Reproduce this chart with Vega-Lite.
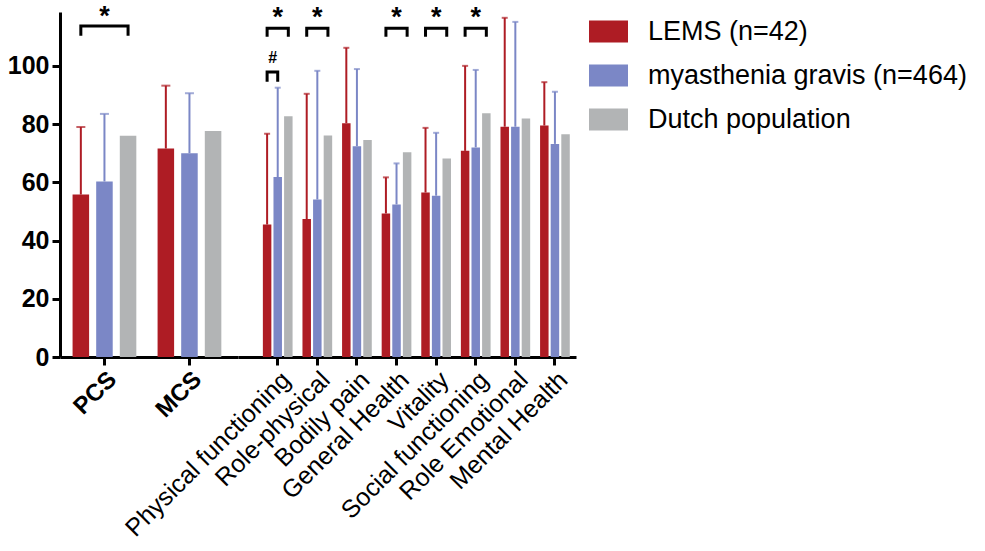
{
  "$schema": "https://vega.github.io/schema/vega-lite/v6.json",
  "padding": {"left": 7, "top": 3, "right": 5, "bottom": 5},
  "bounds": "flush",
  "datasets": {
    "bars": [
      {"panel": "summary", "cat": "PCS", "grp": "LEMS (n=42)", "mean": 55.8, "upper": 79.0},
      {"panel": "summary", "cat": "PCS", "grp": "myasthenia gravis (n=464)", "mean": 60.3, "upper": 83.5},
      {"panel": "summary", "cat": "PCS", "grp": "Dutch population", "mean": 76.0, "upper": null},
      {"panel": "summary", "cat": "MCS", "grp": "LEMS (n=42)", "mean": 71.6, "upper": 93.2},
      {"panel": "summary", "cat": "MCS", "grp": "myasthenia gravis (n=464)", "mean": 70.0, "upper": 90.6},
      {"panel": "summary", "cat": "MCS", "grp": "Dutch population", "mean": 77.6, "upper": null},
      {"panel": "scale", "cat": "Physical functioning", "grp": "LEMS (n=42)", "mean": 45.5, "upper": 76.7},
      {"panel": "scale", "cat": "Physical functioning", "grp": "myasthenia gravis (n=464)", "mean": 61.8, "upper": 92.5},
      {"panel": "scale", "cat": "Physical functioning", "grp": "Dutch population", "mean": 82.7, "upper": null},
      {"panel": "scale", "cat": "Role-physical", "grp": "LEMS (n=42)", "mean": 47.4, "upper": 90.4},
      {"panel": "scale", "cat": "Role-physical", "grp": "myasthenia gravis (n=464)", "mean": 54.1, "upper": 98.3},
      {"panel": "scale", "cat": "Role-physical", "grp": "Dutch population", "mean": 76.1, "upper": null},
      {"panel": "scale", "cat": "Bodily pain", "grp": "LEMS (n=42)", "mean": 80.3, "upper": 106.2},
      {"panel": "scale", "cat": "Bodily pain", "grp": "myasthenia gravis (n=464)", "mean": 72.4, "upper": 98.9},
      {"panel": "scale", "cat": "Bodily pain", "grp": "Dutch population", "mean": 74.5, "upper": null},
      {"panel": "scale", "cat": "General Health", "grp": "LEMS (n=42)", "mean": 49.3, "upper": 61.7},
      {"panel": "scale", "cat": "General Health", "grp": "myasthenia gravis (n=464)", "mean": 52.4, "upper": 66.5},
      {"panel": "scale", "cat": "General Health", "grp": "Dutch population", "mean": 70.3, "upper": null},
      {"panel": "scale", "cat": "Vitality", "grp": "LEMS (n=42)", "mean": 56.5, "upper": 78.7},
      {"panel": "scale", "cat": "Vitality", "grp": "myasthenia gravis (n=464)", "mean": 55.4, "upper": 77.0},
      {"panel": "scale", "cat": "Vitality", "grp": "Dutch population", "mean": 68.2, "upper": null},
      {"panel": "scale", "cat": "Social functioning", "grp": "LEMS (n=42)", "mean": 70.8, "upper": 100.0},
      {"panel": "scale", "cat": "Social functioning", "grp": "myasthenia gravis (n=464)", "mean": 72.0, "upper": 98.6},
      {"panel": "scale", "cat": "Social functioning", "grp": "Dutch population", "mean": 83.7, "upper": null},
      {"panel": "scale", "cat": "Role Emotional", "grp": "LEMS (n=42)", "mean": 79.1, "upper": 116.5},
      {"panel": "scale", "cat": "Role Emotional", "grp": "myasthenia gravis (n=464)", "mean": 79.1, "upper": 115.1},
      {"panel": "scale", "cat": "Role Emotional", "grp": "Dutch population", "mean": 81.9, "upper": null},
      {"panel": "scale", "cat": "Mental Health", "grp": "LEMS (n=42)", "mean": 79.5, "upper": 94.4},
      {"panel": "scale", "cat": "Mental Health", "grp": "myasthenia gravis (n=464)", "mean": 73.2, "upper": 91.1},
      {"panel": "scale", "cat": "Mental Health", "grp": "Dutch population", "mean": 76.5, "upper": null}
    ],
    "brackets": [
      {"panel": "summary", "id": "pcs", "cat": "PCS", "grp": "LEMS (n=42)", "y": 110.3, "ord": 0},
      {"panel": "summary", "id": "pcs", "cat": "PCS", "grp": "LEMS (n=42)", "y": 113.7, "ord": 1},
      {"panel": "summary", "id": "pcs", "cat": "PCS", "grp": "Dutch population", "y": 113.7, "ord": 2},
      {"panel": "summary", "id": "pcs", "cat": "PCS", "grp": "Dutch population", "y": 110.3, "ord": 3},
      {"panel": "scale", "id": "pf", "cat": "Physical functioning", "grp": "LEMS (n=42)", "y": 110.0, "ord": 0},
      {"panel": "scale", "id": "pf", "cat": "Physical functioning", "grp": "LEMS (n=42)", "y": 112.9, "ord": 1},
      {"panel": "scale", "id": "pf", "cat": "Physical functioning", "grp": "Dutch population", "y": 112.9, "ord": 2},
      {"panel": "scale", "id": "pf", "cat": "Physical functioning", "grp": "Dutch population", "y": 110.0, "ord": 3},
      {"panel": "scale", "id": "pfh", "cat": "Physical functioning", "grp": "LEMS (n=42)", "y": 94.5, "ord": 0},
      {"panel": "scale", "id": "pfh", "cat": "Physical functioning", "grp": "LEMS (n=42)", "y": 97.9, "ord": 1},
      {"panel": "scale", "id": "pfh", "cat": "Physical functioning", "grp": "myasthenia gravis (n=464)", "y": 97.9, "ord": 2},
      {"panel": "scale", "id": "pfh", "cat": "Physical functioning", "grp": "myasthenia gravis (n=464)", "y": 94.5, "ord": 3},
      {"panel": "scale", "id": "rp", "cat": "Role-physical", "grp": "LEMS (n=42)", "y": 110.0, "ord": 0},
      {"panel": "scale", "id": "rp", "cat": "Role-physical", "grp": "LEMS (n=42)", "y": 112.9, "ord": 1},
      {"panel": "scale", "id": "rp", "cat": "Role-physical", "grp": "Dutch population", "y": 112.9, "ord": 2},
      {"panel": "scale", "id": "rp", "cat": "Role-physical", "grp": "Dutch population", "y": 110.0, "ord": 3},
      {"panel": "scale", "id": "gh", "cat": "General Health", "grp": "LEMS (n=42)", "y": 110.0, "ord": 0},
      {"panel": "scale", "id": "gh", "cat": "General Health", "grp": "LEMS (n=42)", "y": 112.9, "ord": 1},
      {"panel": "scale", "id": "gh", "cat": "General Health", "grp": "Dutch population", "y": 112.9, "ord": 2},
      {"panel": "scale", "id": "gh", "cat": "General Health", "grp": "Dutch population", "y": 110.0, "ord": 3},
      {"panel": "scale", "id": "vt", "cat": "Vitality", "grp": "LEMS (n=42)", "y": 110.0, "ord": 0},
      {"panel": "scale", "id": "vt", "cat": "Vitality", "grp": "LEMS (n=42)", "y": 112.9, "ord": 1},
      {"panel": "scale", "id": "vt", "cat": "Vitality", "grp": "Dutch population", "y": 112.9, "ord": 2},
      {"panel": "scale", "id": "vt", "cat": "Vitality", "grp": "Dutch population", "y": 110.0, "ord": 3},
      {"panel": "scale", "id": "sf", "cat": "Social functioning", "grp": "LEMS (n=42)", "y": 110.0, "ord": 0},
      {"panel": "scale", "id": "sf", "cat": "Social functioning", "grp": "LEMS (n=42)", "y": 112.9, "ord": 1},
      {"panel": "scale", "id": "sf", "cat": "Social functioning", "grp": "Dutch population", "y": 112.9, "ord": 2},
      {"panel": "scale", "id": "sf", "cat": "Social functioning", "grp": "Dutch population", "y": 110.0, "ord": 3}
    ],
    "signif": [
      {"panel": "summary", "cat": "PCS", "grp": "myasthenia gravis (n=464)", "y": 114.0, "label": "*"},
      {"panel": "scale", "cat": "Physical functioning", "grp": "myasthenia gravis (n=464)", "y": 113.8, "label": "*"},
      {"panel": "scale", "cat": "Role-physical", "grp": "myasthenia gravis (n=464)", "y": 113.8, "label": "*"},
      {"panel": "scale", "cat": "General Health", "grp": "myasthenia gravis (n=464)", "y": 113.8, "label": "*"},
      {"panel": "scale", "cat": "Vitality", "grp": "myasthenia gravis (n=464)", "y": 113.8, "label": "*"},
      {"panel": "scale", "cat": "Social functioning", "grp": "myasthenia gravis (n=464)", "y": 113.8, "label": "*"}
    ],
    "hash": [
      {"panel": "scale", "cat": "Physical functioning", "grp": "LEMS (n=42)", "y": 101.1, "label": "#"}
    ]
  },
  "spacing": 0,
  "resolve": {"scale": {"x": "independent", "xOffset": "independent", "y": "independent"}},
  "hconcat": [
    {
      "width": 178,
      "height": 345,
      "layer": [
        {
          "data": {"name": "bars"},
          "transform": [{"filter": "datum.panel === 'summary'"}],
          "mark": {"type": "bar"},
          "encoding": {
            "x": {"field": "cat", "type": "nominal",
              "scale": {"domain": ["PCS", "MCS"], "paddingInner": 0.25, "paddingOuter": 0.172, "align": 0.43},
              "axis": {"title": null, "labelAngle": -45, "labelFont": "Liberation Sans", "labelFontSize": 24, "labelFontWeight": "bold", "labelColor": "black", "domainColor": "black", "domainWidth": 3, "tickColor": "black", "tickWidth": 3, "tickSize": 8, "labelPadding": 2, "labelLimit": 0}},
            "xOffset": {"field": "grp", "scale": {"domain": ["LEMS (n=42)", "myasthenia gravis (n=464)", "Dutch population"], "paddingInner": 0.3, "paddingOuter": 0}},
            "y": {"field": "mean", "type": "quantitative",
              "scale": {"domain": [0, 118.5], "nice": false, "zero": true},
              "axis": {"title": null, "values": [0, 10, 20, 30, 40, 50, 60, 70, 80, 90, 100, 110], "labelExpr": "datum.value % 20 === 0 ? datum.label : ''", "tickSize": {"condition": {"test": "datum.value % 20 === 0", "value": 8}, "value": 5}, "tickWidth": 3, "tickColor": "black", "domainWidth": 3, "domainColor": "black", "labelFont": "Liberation Sans", "labelFontSize": 25, "labelFontWeight": "bold", "labelColor": "black", "grid": false, "labelPadding": 3}},
            "color": {"field": "grp", "type": "nominal",
              "scale": {"domain": ["LEMS (n=42)", "myasthenia gravis (n=464)", "Dutch population"], "range": ["#AE1C24", "#7B87C6", "#B2B4B5"]},
              "legend": {"title": null, "orient": "right", "offset": 13, "symbolType": "M-1,-0.564H1V0.564H-1Z", "symbolSize": 1521, "symbolStrokeWidth": 0, "labelFont": "Liberation Sans", "labelFontSize": 27, "labelColor": "black", "labelOffset": 20, "rowPadding": 11, "labelLimit": 400, "padding": 0}}
          }
        },
        {
          "data": {"name": "bars"},
          "transform": [{"filter": "datum.panel === 'summary' && datum.upper != null"}],
          "mark": {"type": "rule", "strokeWidth": 2},
          "encoding": {
            "x": {"field": "cat", "type": "nominal"},
            "xOffset": {"field": "grp"},
            "y": {"field": "mean", "type": "quantitative"},
            "y2": {"field": "upper"},
            "color": {"field": "grp", "type": "nominal", "legend": null}
          }
        },
        {
          "data": {"name": "bars"},
          "transform": [{"filter": "datum.panel === 'summary' && datum.upper != null"}],
          "mark": {"type": "tick", "orient": "horizontal", "thickness": 2, "size": 9},
          "encoding": {
            "x": {"field": "cat", "type": "nominal"},
            "xOffset": {"field": "grp"},
            "y": {"field": "upper", "type": "quantitative"},
            "color": {"field": "grp", "type": "nominal", "legend": null}
          }
        },
        {
          "data": {"name": "brackets"},
          "transform": [{"filter": "datum.panel === 'summary'"}],
          "mark": {"type": "line", "color": "black", "strokeWidth": 3, "strokeCap": "butt", "strokeJoin": "miter"},
          "encoding": {
            "x": {"field": "cat", "type": "nominal"},
            "xOffset": {"field": "grp"},
            "y": {"field": "y", "type": "quantitative"},
            "detail": {"field": "id"},
            "order": {"field": "ord"}
          }
        },
        {
          "data": {"name": "signif"},
          "transform": [{"filter": "datum.panel === 'summary'"}],
          "mark": {"type": "text", "font": "Liberation Sans", "fontSize": 27, "fontWeight": "bold", "color": "black", "baseline": "alphabetic", "align": "center"},
          "encoding": {
            "x": {"field": "cat", "type": "nominal"},
            "xOffset": {"field": "grp"},
            "y": {"field": "y", "type": "quantitative"},
            "text": {"field": "label"}
          }
        }
      ]
    },
    {
      "width": 338,
      "height": 345,
      "layer": [
        {
          "data": {"name": "bars"},
          "transform": [{"filter": "datum.panel === 'scale'"}],
          "mark": {"type": "bar"},
          "encoding": {
            "x": {"field": "cat", "type": "nominal",
              "scale": {"domain": ["Physical functioning", "Role-physical", "Bodily pain", "General Health", "Vitality", "Social functioning", "Role Emotional", "Mental Health"], "paddingInner": 0.25, "paddingOuter": 0.3925, "align": 0.8},
              "axis": {"title": null, "labelAngle": -45, "labelFont": "Liberation Sans", "labelFontSize": 25, "labelFontWeight": "normal", "labelColor": "black", "domainColor": "black", "domainWidth": 3, "tickColor": "black", "tickWidth": 3, "tickSize": 8, "labelPadding": 2, "labelLimit": 0}},
            "xOffset": {"field": "grp", "scale": {"domain": ["LEMS (n=42)", "myasthenia gravis (n=464)", "Dutch population"], "paddingInner": 0.2, "paddingOuter": 0}},
            "y": {"field": "mean", "type": "quantitative", "scale": {"domain": [0, 118.5], "nice": false, "zero": true}, "axis": null},
            "color": {"field": "grp", "type": "nominal"}
          }
        },
        {
          "data": {"name": "bars"},
          "transform": [{"filter": "datum.panel === 'scale' && datum.upper != null"}],
          "mark": {"type": "rule", "strokeWidth": 2},
          "encoding": {
            "x": {"field": "cat", "type": "nominal"},
            "xOffset": {"field": "grp"},
            "y": {"field": "mean", "type": "quantitative"},
            "y2": {"field": "upper"},
            "color": {"field": "grp", "type": "nominal", "legend": null}
          }
        },
        {
          "data": {"name": "bars"},
          "transform": [{"filter": "datum.panel === 'scale' && datum.upper != null"}],
          "mark": {"type": "tick", "orient": "horizontal", "thickness": 2, "size": 6},
          "encoding": {
            "x": {"field": "cat", "type": "nominal"},
            "xOffset": {"field": "grp"},
            "y": {"field": "upper", "type": "quantitative"},
            "color": {"field": "grp", "type": "nominal", "legend": null}
          }
        },
        {
          "data": {"name": "brackets"},
          "transform": [{"filter": "datum.panel === 'scale'"}],
          "mark": {"type": "line", "color": "black", "strokeWidth": 3, "strokeCap": "butt", "strokeJoin": "miter"},
          "encoding": {
            "x": {"field": "cat", "type": "nominal"},
            "xOffset": {"field": "grp"},
            "y": {"field": "y", "type": "quantitative"},
            "detail": {"field": "id"},
            "order": {"field": "ord"}
          }
        },
        {
          "data": {"name": "signif"},
          "transform": [{"filter": "datum.panel === 'scale'"}],
          "mark": {"type": "text", "font": "Liberation Sans", "fontSize": 27, "fontWeight": "bold", "color": "black", "baseline": "alphabetic", "align": "center"},
          "encoding": {
            "x": {"field": "cat", "type": "nominal"},
            "xOffset": {"field": "grp"},
            "y": {"field": "y", "type": "quantitative"},
            "text": {"field": "label"}
          }
        },
        {
          "data": {"name": "hash"},
          "mark": {"type": "text", "font": "Liberation Sans", "fontSize": 16, "fontWeight": "bold", "color": "black", "baseline": "alphabetic", "align": "center", "dx": 5.5},
          "encoding": {
            "x": {"field": "cat", "type": "nominal"},
            "xOffset": {"field": "grp"},
            "y": {"field": "y", "type": "quantitative"},
            "text": {"field": "label"}
          }
        }
      ]
    }
  ],
  "config": {
    "view": {"stroke": null},
    "font": "Liberation Sans",
    "axis": {"grid": false}
  }
}
